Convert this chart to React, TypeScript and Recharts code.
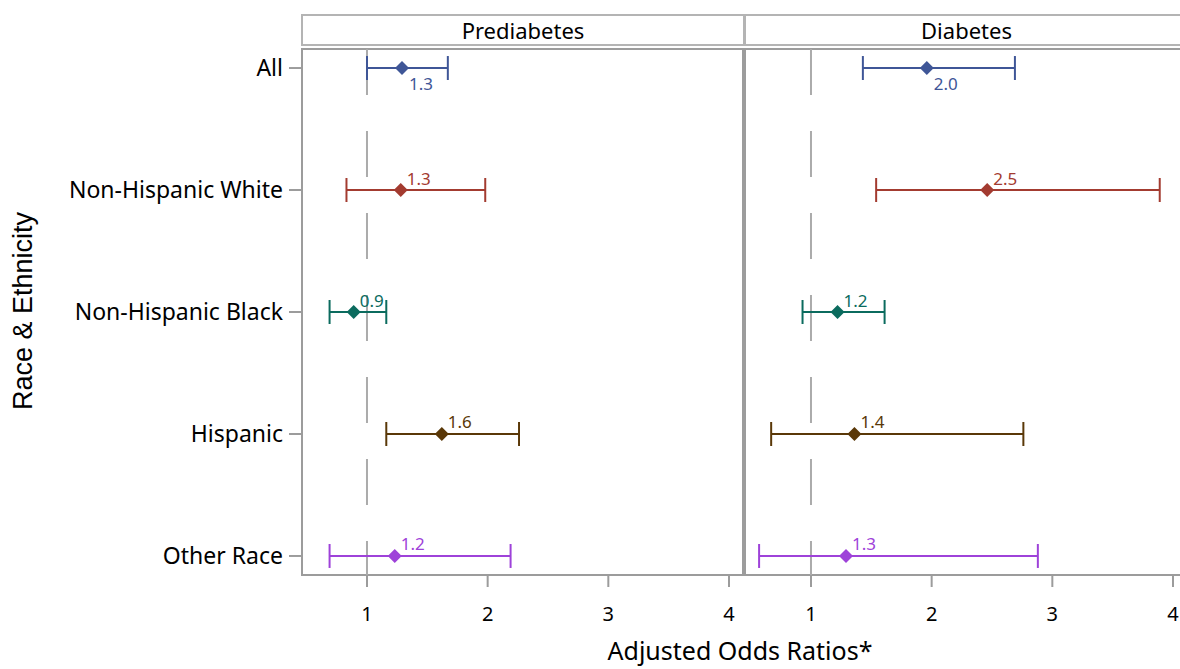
import React from 'react';
import { ComposedChart, Scatter, ErrorBar, XAxis, YAxis, ReferenceLine, ReferenceArea } from 'recharts';

const categories = ['All', 'Non-Hispanic White', 'Non-Hispanic Black', 'Hispanic', 'Other Race'];
const seriesColors = ['#3F5697', '#A33B30', '#0B6B5E', '#5A3808', '#9E42D9'];
const panelTitles = ['Prediabetes', 'Diabetes'];
const preOR = [1.29, 1.28, 0.89, 1.62, 1.23];
const preLow = [1.0, 0.83, 0.69, 1.16, 0.69];
const preHigh = [1.67, 1.98, 1.16, 2.26, 2.19];
const diaOR = [1.96, 2.46, 1.22, 1.36, 1.29];
const diaLow = [1.43, 1.54, 0.93, 0.67, 0.57];
const diaHigh = [2.69, 3.89, 1.61, 2.76, 2.88];
const xTicks = [1, 2, 3, 4];
const yTicks = [0, 1, 2, 3, 4];
const xTitle = 'Adjusted Odds Ratios*';
const yTitle = 'Race & Ethnicity';

const X_DOMAIN_PRE: [number, number] = [0.4615, 4.116];
const X_DOMAIN_DIA: [number, number] = [0.4532, 4.1077];
const Y_DOMAIN: [number, number] = [-0.156, 4.156];
const FONT = '"Noto Sans", "Open Sans", sans-serif';
const BORDER = '#9c9c9c';

function buildRows(or: number[], low: number[], high: number[]) {
  return categories.map((c, i) => ({
    name: c,
    y: i,
    x: or[i],
    err: [or[i] - low[i], high[i] - or[i]],
    label: or[i].toFixed(1),
  }));
}

function makeShape(color: string, below: boolean) {
  return (props: any) => {
    const { cx, cy, payload } = props;
    const s = 7;
    return (
      <g>
        <polygon points={`${cx},${cy - s} ${cx + s},${cy} ${cx},${cy + s} ${cx - s},${cy}`} fill={color} />
        <text
          x={cx + (below ? 7 : 6)}
          y={below ? cy + 15 : cy - 12}
          dominantBaseline="central"
          fill={color}
          fontSize={17}
          fontFamily={FONT}
        >
          {payload.label}
        </text>
      </g>
    );
  };
}

function Panel({
  or,
  low,
  high,
  showY,
  xDomain,
}: {
  or: number[];
  low: number[];
  high: number[];
  showY: boolean;
  xDomain: [number, number];
}) {
  const rows = buildRows(or, low, high);
  const yW = showY ? 302 : 0;
  return (
    <ComposedChart
      width={yW + 441 + (showY ? 2 : 4)}
      height={669}
      margin={{ top: 49, right: 2, bottom: 34, left: showY ? 0 : 2 }}
    >
      <XAxis
        type="number"
        dataKey="x"
        domain={xDomain}
        ticks={xTicks}
        allowDataOverflow
        axisLine={false}
        tickSize={12}
        tickMargin={20}
        height={60}
        tickLine={{ stroke: BORDER, strokeWidth: 2 }}
        tick={{ fill: '#000', fontSize: 20, fontFamily: FONT }}
      />
      <YAxis
        type="number"
        dataKey="y"
        domain={Y_DOMAIN}
        ticks={yTicks}
        reversed
        allowDataOverflow
        hide={!showY}
        width={yW}
        axisLine={false}
        tickSize={13}
        tickMargin={6}
        tickLine={{ stroke: BORDER, strokeWidth: 2 }}
        tickFormatter={(v: number) => categories[v] ?? ''}
        tick={{ fill: '#000', fontSize: 23, fontFamily: FONT }}
      />
      <ReferenceArea
        x1={xDomain[0]}
        x2={xDomain[1]}
        y1={Y_DOMAIN[0]}
        y2={Y_DOMAIN[1]}
        fill="none"
        fillOpacity={0}
        stroke={BORDER}
        strokeWidth={2}
        ifOverflow="visible"
      />
      <ReferenceLine x={1} stroke="#ababab" strokeWidth={2} strokeDasharray="46 36" strokeDashoffset={12} />
      {rows.map((r, i) => (
        <Scatter
          key={r.name}
          data={[r]}
          isAnimationActive={false}
          fill={seriesColors[i]}
          shape={makeShape(seriesColors[i], i === 0)}
        >
          <ErrorBar dataKey="err" direction="x" width={12} stroke={seriesColors[i]} strokeWidth={2} isAnimationActive={false} />
        </Scatter>
      ))}
    </ComposedChart>
  );
}

const headerStyle: React.CSSProperties = {
  position: 'absolute',
  top: 14,
  height: 28,
  border: '2px solid #b4b4b4',
  background: '#fff',
  fontFamily: FONT,
  fontSize: 22,
  lineHeight: '28px',
  textAlign: 'center',
  color: '#000',
};

export default function App() {
  return (
    <div
      style={{
        position: 'absolute',
        left: 0,
        top: 0,
        width: 1180,
        height: 669,
        overflow: 'hidden',
        background: '#fff',
        fontFamily: FONT,
      }}
    >
      <div style={{ position: 'absolute', left: 0, top: 0 }}>
        <Panel or={preOR} low={preLow} high={preHigh} showY xDomain={X_DOMAIN_PRE} />
      </div>
      <div style={{ position: 'absolute', left: 743, top: 0 }}>
        <Panel or={diaOR} low={diaLow} high={diaHigh} showY={false} xDomain={X_DOMAIN_DIA} />
      </div>
      <div style={{ ...headerStyle, left: 301, width: 440 }}>{panelTitles[0]}</div>
      <div style={{ ...headerStyle, left: 744, width: 441 }}>{panelTitles[1]}</div>
      <svg style={{ position: 'absolute', left: 0, top: 0, pointerEvents: 'none' }} width={1180} height={669}>
        <text x={740} y={660} textAnchor="middle" fontSize={25} fontFamily={FONT} fill="#000">
          {xTitle}
        </text>
        <text
          x={32}
          y={311}
          transform="rotate(-90 32 311)"
          textAnchor="middle"
          fontSize={27}
          fontFamily='"Liberation Sans", Arial, sans-serif'
          fill="#000"
        >
          {yTitle}
        </text>
      </svg>
    </div>
  );
}
